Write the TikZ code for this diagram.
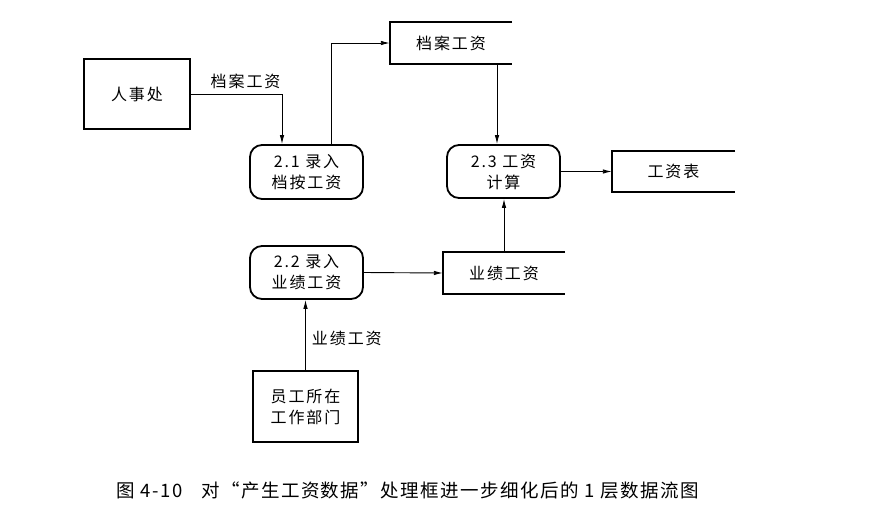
\documentclass[tikz,border=0pt]{standalone}
\usepackage{fontspec}
\newfontfamily\cjk[LetterSpace=12]{Noto Sans CJK SC}
\newfontfamily\cjkcap[LetterSpace=8]{Noto Sans CJK SC}
\usetikzlibrary{arrows.meta}
\tikzset{
  every node/.style={font=\cjk\fontsize{16}{21}\selectfont, align=center, inner sep=0pt},
  ext/.style={draw, line width=1.8pt},
  proc/.style={draw, line width=1.8pt, rounded corners=12pt},
  store/.style={},
  flow/.style={line width=0.9pt, -{Latex[length=9pt,width=4.5pt]}},
  storeline/.style={line width=1.8pt},
}
\begin{document}
\begin{tikzpicture}[x=1pt,y=-1pt]
\useasboundingbox (0,0) rectangle (874,528);
% external entities
\node[ext, minimum width=106pt, minimum height=70pt] (rsc) at (137,94) {人事处};
\node[ext, minimum width=105pt, minimum height=71pt] (yg) at (305.5,406.5) {员工所在\\工作部门};
% processes
\node[proc, minimum width=113pt, minimum height=54pt] (p21) at (306.5,172) {2.1 录入\\档按工资};
\node[proc, minimum width=113pt, minimum height=53pt] (p22) at (306.5,272.5) {2.2 录入\\业绩工资};
\node[proc, minimum width=113pt, minimum height=53pt] (p23) at (503.5,171.5) {2.3 工资\\计算};
% data stores
\node[store, minimum width=122pt, minimum height=42pt] (s1) at (451,43) {档案工资};
\node[store, minimum width=123pt, minimum height=41pt] (s3) at (673.5,171.5) {工资表};
\node[store, minimum width=122pt, minimum height=42pt] (s2) at (504,273) {业绩工资};
\foreach \s in {s1,s2,s3}
  \draw[storeline] (\s.north east) -- (\s.north west) -- (\s.south west) -- (\s.south east);
% flows
\draw[flow] (rsc.east) -| ([xshift=-24.5pt]p21.north)
  node[pos=0.3, above=5pt] (l1) {档案工资};
\draw[flow] ([xshift=24.5pt]p21.north) |- (s1.west);
\draw[flow] ([xshift=-6.5pt]p23.north |- s1.south) -- ([xshift=-6.5pt]p23.north);
\draw[flow] (p23.east) -- (s3.west);
\draw[flow] (p22.east) -- (s2.west);
\draw[flow] (s2.north) -- (s2.north |- p23.south);
\draw[flow] (yg.north) -- (yg.north |- p22.south)
  node[pos=0.45, right=6pt] (l2) {业绩工资};
% caption
\node[font=\cjkcap\fontsize{18.5}{20}\selectfont] (cap) at (408,490) {图 4-10\quad 对“产生工资数据”处理框进一步细化后的 1 层数据流图};
\end{tikzpicture}
\end{document}
